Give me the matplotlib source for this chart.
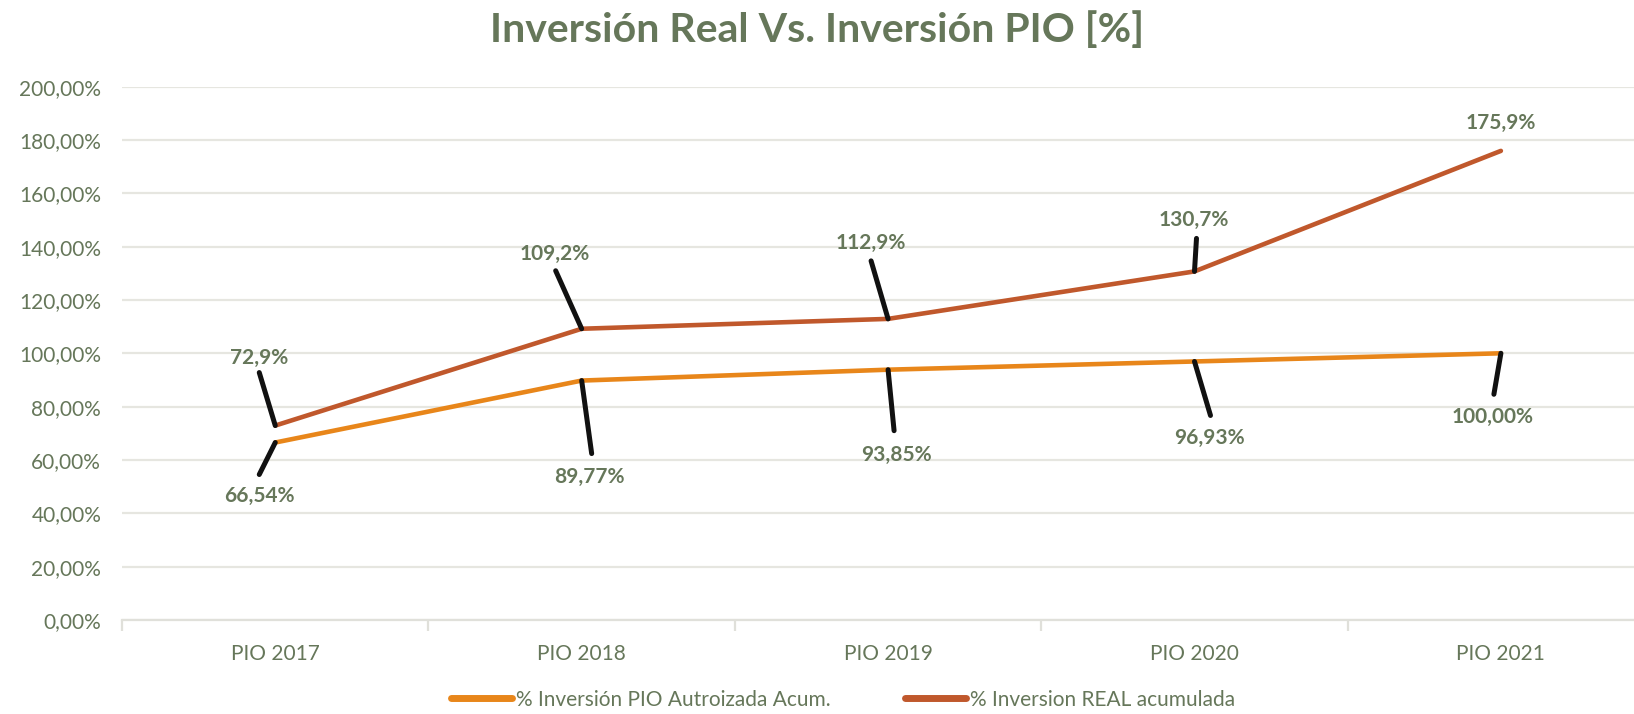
import matplotlib.pyplot as plt
import numpy as np
from matplotlib.ticker import FuncFormatter
from matplotlib.lines import Line2D

# datos
categorias = ['PIO 2017', 'PIO 2018', 'PIO 2019', 'PIO 2020', 'PIO 2021']
pio_acum = [66.54, 89.77, 93.85, 96.93, 100.00]
real_acum = [72.9, 109.2, 112.9, 130.7, 175.9]
serie_pio = '% Inversión PIO Autroizada Acum.'
serie_real = '% Inversion REAL acumulada'

TXT = '#66775a'
NARANJA = '#e8861a'
ROJO = '#c0582c'
plt.rcParams['font.family'] = ['Lato', 'DejaVu Sans']

fig = plt.figure(figsize=(16.34, 7.14), dpi=100, facecolor='w')
ax = fig.add_axes([0.0747, 0.1317, 0.9376, 0.747])
x = np.arange(len(categorias))

l1, = ax.plot(x, pio_acum, color=NARANJA, lw=3.3, solid_capstyle='round', zorder=3)
l2, = ax.plot(x, real_acum, color=ROJO, lw=3.3, solid_capstyle='round', zorder=3)

# etiquetas con lineas guia (desplazamientos en pixeles)
guia_real = [(-16, 53), (-26, 58), (-17, 58), (2, 33), None]
txt_real = [(-16, 68), (-27, 75), (-17, 76), (-1, 51), (0, 28)]
guia_pio = [(-16, -32), (10, -73), (6, -61), (16, -54), (-7, -41)]
txt_pio = [(-16, -53), (8, -96), (8, -85), (15, -76), (-8, -64)]

def etiquetar(vals, guias, textos, fmt):
    for i, v in enumerate(vals):
        if guias[i] is not None:
            ax.annotate('', xy=(i, v), xytext=guias[i], textcoords='offset pixels',
                        arrowprops=dict(arrowstyle='-', lw=3.6, color='#111111',
                                        shrinkA=0, shrinkB=0), zorder=4)
        ax.annotate(fmt(v), xy=(i, v), xytext=textos[i], textcoords='offset pixels',
                    ha='center', va='center', fontsize=15, fontweight='bold', color=TXT)

etiquetar(real_acum, guia_real, txt_real, lambda v: ('%.1f%%' % v).replace('.', ','))
etiquetar(pio_acum, guia_pio, txt_pio, lambda v: ('%.2f%%' % v).replace('.', ','))

ax.set_xlim(-0.5, len(categorias) - 0.5)
ax.set_ylim(0, 200)
ax.set_yticks(np.arange(0, 201, 20))
ax.yaxis.set_major_formatter(FuncFormatter(lambda v, p: ('%.2f%%' % v).replace('.', ',')))
ax.grid(axis='y', color='#e6e6e0', lw=1.6, zorder=0)
ax.set_axisbelow(True)
for s in ['top', 'right', 'left']:
    ax.spines[s].set_visible(False)
ax.spines['bottom'].set_color('#e0e0da')
ax.spines['bottom'].set_linewidth(1.6)

ax.set_xticks(x)
ax.set_xticklabels(categorias)
ax.set_xticks(np.arange(-0.5, len(categorias), 1), minor=True)
ax.tick_params(axis='x', which='major', length=0, pad=17, labelsize=15, labelcolor=TXT)
ax.tick_params(axis='x', which='minor', length=8, width=1.6, color='#e0e0da')
ax.tick_params(axis='y', length=0, pad=15, labelsize=15, labelcolor=TXT)

fig.suptitle('Inversión Real Vs. Inversión PIO [%]', x=0.5, y=0.985,
             fontsize=29.5, fontweight='bold', color=TXT)

h1 = Line2D([], [], color=NARANJA, lw=5, solid_capstyle='round')
h2 = Line2D([], [], color=ROJO, lw=5, solid_capstyle='round')
fig.legend([h1, h2], [serie_pio, serie_real], loc='lower center',
           bbox_to_anchor=(0.516, -0.02), ncol=2, frameon=False, fontsize=15,
           labelcolor=TXT, handlelength=2.9, handletextpad=0.2, columnspacing=3.6)

fig.savefig('out.png', dpi=100)
